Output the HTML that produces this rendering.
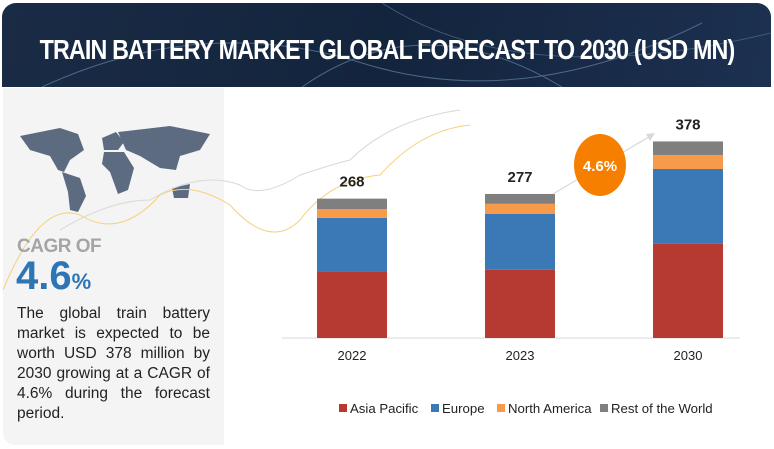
<!DOCTYPE html>
<html><head><meta charset="utf-8"><style>
body{margin:0;width:774px;height:449px;background:#fff;position:relative;overflow:hidden;font-family:"Liberation Sans",sans-serif}
#hdr{position:absolute;left:2px;top:3px;width:769px;height:84px;border-radius:14px 14px 0 0;background:linear-gradient(100deg,#1a2b45 0%,#13243d 50%,#1c3050 100%);overflow:hidden}
#tspan{position:absolute;left:50%;top:31px;color:#fff;font-weight:bold;font-size:28px;letter-spacing:-1px;white-space:nowrap;transform-origin:center}
#left{position:absolute;left:3px;top:88px;width:221px;height:357px;background:#f4f4f4;border-radius:0 0 0 12px}
#cagr{position:absolute;left:17px;top:236px;font-size:19px;font-weight:bold;color:#a5a5a5;letter-spacing:-0.5px}
#pct{position:absolute;left:16px;top:254px;font-size:40px;font-weight:bold;color:#2e75b6}
#pct span{font-size:22px}
#desc{position:absolute;left:17px;top:304px;width:193px;font-size:15.5px;line-height:20px;color:#222;text-align:justify}
</style></head><body>
<div id="hdr">
<svg width="769" height="84" style="position:absolute;left:0;top:0">
<path d="M40 84 Q200 10 360 60 T700 20" stroke="#4a6688" fill="none" stroke-width="1"/>
<path d="M300 84 Q420 0 560 84" stroke="#4a6688" fill="none" stroke-width="1"/>
<path d="M380 0 Q520 90 769 30" stroke="#3e5a7c" fill="none" stroke-width="1"/>
</svg>
<span id="tspan">TRAIN BATTERY MARKET GLOBAL FORECAST TO 2030 (USD MN)</span>
</div>
<div id="left"></div>
<svg width="774" height="449" style="position:absolute;left:0;top:0">
<g fill="#5d6b80">
<path d="M20 136 L60 128 L78 134 L84 150 L70 160 L64 172 L58 170 L50 156 L30 150 Z"/>
<path d="M62 172 L80 178 L86 196 L78 212 L70 210 L68 192 Z"/>
<path d="M102 138 L116 132 L124 142 L118 150 L104 150 Z"/>
<path d="M104 152 L124 152 L134 168 L128 190 L118 194 L110 172 L102 164 Z"/>
<path d="M118 132 L170 126 L210 134 L200 150 L180 156 L176 170 L160 168 L140 156 L126 150 Z"/>
<path d="M172 188 L190 184 L188 198 L174 198 Z"/>
</g>
<g fill="none" stroke-width="1">
<path d="M3 290 Q40 200 80 215 Q120 240 160 195 Q190 180 230 205 Q270 250 300 220 Q330 180 380 175 Q420 130 470 125" stroke="#f2d27a"/>
<path d="M60 230 Q110 200 150 200 Q200 170 240 185 Q260 200 300 175 Q330 165 350 160 Q390 120 460 110" stroke="#d8d8d8"/>
</g>
<g id="chart"></g>
</svg>
<div id="cagr">CAGR OF</div>
<div id="pct">4.6<span>%</span></div>
<div id="desc">The global train battery market is expected to be worth USD 378 million by 2030 growing at a CAGR of 4.6% during the forecast period.</div>
<script>
const ts=document.getElementById('tspan');
ts.style.transform='translateX(-50%) scaleX('+(695/ts.offsetWidth)+')';
const categories=["2022","2023","2030"];
const asiaPacific=[127,131,181];
const europe=[104,108,144];
const northAmerica=[17,19,27];
const restOfWorld=[20,19,26];
const totals=["268","277","378"];
const seriesNames=["Asia Pacific","Europe","North America","Rest of the World"];
const colors=["#b73a32","#3a79b6","#f79a4a","#7f7f7f"];
const NS="http://www.w3.org/2000/svg";
const g=document.getElementById('chart');
const base=338,scale=0.52,x0=317,step=168,bw=70;
const yv=v=>base-v*scale;
const xc=i=>x0+i*step;
function mk(t,a){const e=document.createElementNS(NS,t);for(const k in a)e.setAttribute(k,a[k]);g.appendChild(e);return e;}
const axis=mk('line',{x1:282,x2:740,y1:base,y2:base,stroke:'#d9d9d9','stroke-width':1});


const series=[asiaPacific,europe,northAmerica,restOfWorld];
categories.forEach((c,i)=>{
  let cum=0;
  series.forEach((s,j)=>{
    const r=mk('rect',{x:xc(i),y:yv(cum+s[i]),width:bw,height:s[i]*scale,fill:colors[j]});
    
    
    cum+=s[i];
  });
  const t=mk('text',{x:xc(i)+bw/2,y:yv(cum)-12,'text-anchor':'middle','font-size':15,'font-weight':'bold',fill:'#222'});
  t.textContent=totals[i];
  
  
  const l=mk('text',{x:xc(i)+bw/2,y:base+22,'text-anchor':'middle','font-size':13,fill:'#222'});
  l.textContent=c;
  
  
});
const arr=mk('path',{d:'M553 194 L652 135',stroke:'#d9d9d9','stroke-width':1.2,fill:'none'});


const ah=mk('path',{d:'M655 133 L646 134 L650 141 Z',fill:'#d9d9d9'});


const el=mk('ellipse',{cx:600,cy:165,rx:26,ry:31,fill:'#f77f00'});


const et=mk('text',{x:600,y:171,'text-anchor':'middle','font-size':15,'font-weight':'bold',fill:'#fff'});
et.textContent='4.6%';


const lx=[339,431,497,600];
seriesNames.forEach((n,j)=>{
  const r=mk('rect',{x:lx[j],y:404,width:8,height:8,fill:colors[j]});
  
  
  const t=mk('text',{x:lx[j]+11,y:413,'font-size':13.2,fill:'#222'});
  t.textContent=n;
  
  
});
</script>
</body></html>
